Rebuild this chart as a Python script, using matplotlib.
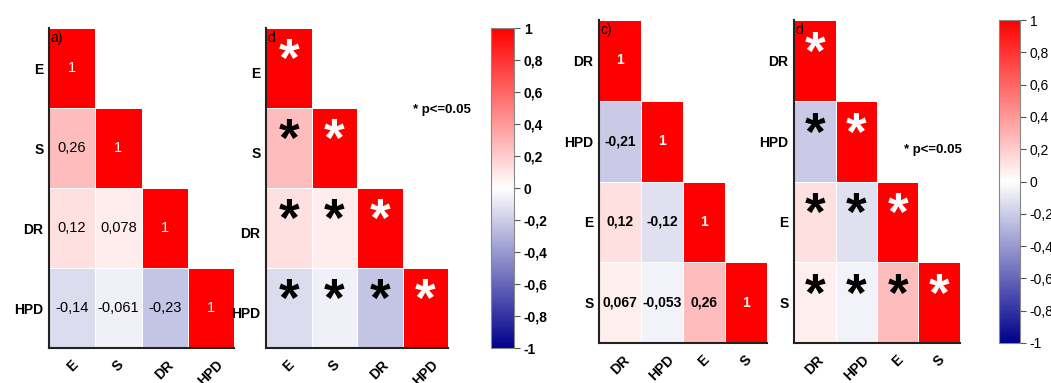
import numpy as np
import matplotlib
matplotlib.use("Agg")
import matplotlib.pyplot as plt
from matplotlib.colors import LinearSegmentedColormap

plt.rcParams['font.family'] = ['Liberation Sans', 'DejaVu Sans']

# data
vars_ac = ['E', 'S', 'DR', 'HPD']
corr_a = [[1, np.nan, np.nan, np.nan],
          [0.26, 1, np.nan, np.nan],
          [0.12, 0.078, 1, np.nan],
          [-0.14, -0.061, -0.23, 1]]
vars_cd = ['DR', 'HPD', 'E', 'S']
corr_c = [[1, np.nan, np.nan, np.nan],
          [-0.21, 1, np.nan, np.nan],
          [0.12, -0.12, 1, np.nan],
          [0.067, -0.053, 0.26, 1]]
cbar_ticks = [-1, -0.8, -0.6, -0.4, -0.2, 0, 0.2, 0.4, 0.6, 0.8, 1]

cmap = LinearSegmentedColormap.from_list('rb', ['#00008B', 'white', '#FF0000'])

W, H = 1051, 383
fig = plt.figure(figsize=(W / 100, H / 100), dpi=100)


def px_axes(x0, y0, x1, y1):
    return fig.add_axes([x0 / W, 1 - y1 / H, (x1 - x0) / W, (y1 - y0) / H])


def comma(v):
    return ('%g' % v).replace('.', ',')


def heat(rect, mat, labels, tag, mode, val_bold=False, ylab_off=0.0):
    ax = px_axes(*rect)
    m = np.ma.masked_invalid(np.array(mat, dtype=float))
    n = len(labels)
    ax.pcolormesh(np.arange(n + 1), np.arange(n + 1), m, cmap=cmap, vmin=-1, vmax=1,
                  edgecolor='white', linewidth=0.5)
    ax.set_xlim(0, n)
    ax.set_ylim(n, 0)
    ax.set_xticks(np.arange(n) + 0.5)
    ax.set_yticks(np.arange(n) + 0.5 + ylab_off)
    ax.set_xticklabels(labels, rotation=45, ha='center', fontsize=10, fontweight='bold')
    ax.set_yticklabels(labels, fontsize=10, fontweight='bold')
    ax.tick_params(length=0, pad=4)
    ax.tick_params(axis='x', pad=7)
    for s in ['top', 'right']:
        ax.spines[s].set_visible(False)
    for s in ['left', 'bottom']:
        ax.spines[s].set_linewidth(1.5)
        ax.spines[s].set_color('#222222')
    for i in range(n):
        for j in range(i + 1):
            v = mat[i][j]
            col = 'white' if i == j else 'black'
            if mode == 'val':
                ax.text(j + 0.5, i + 0.5, comma(v), ha='center', va='center', color=col,
                        fontsize=10.5 if not val_bold else 10,
                        fontweight='bold' if val_bold else 'normal')
            else:
                ax.text(j + 0.5, i + 0.43, '*', ha='center', va='center', color=col,
                        fontsize=38, fontweight='bold')
    ax.text(0.03, 0.04, tag, ha='left', va='top', fontsize=10)
    return ax


def cbar(rect, bold):
    cax = px_axes(*rect)
    sm = plt.cm.ScalarMappable(cmap=cmap, norm=plt.Normalize(-1, 1))
    cb = fig.colorbar(sm, cax=cax, ticks=cbar_ticks)
    cb.ax.set_yticklabels([comma(t) for t in cbar_ticks], fontsize=10,
                          fontweight='bold' if bold else 'normal')
    cb.outline.set_edgecolor('#888888')
    cb.ax.tick_params(length=4, color='#555555', pad=3)
    return cb


heat((49, 28, 234, 348), corr_a, vars_ac, 'a)', 'val')
heat((266, 28, 448, 348), corr_a, vars_ac, 'd', 'star', ylab_off=0.06)
cbar((491, 28, 514, 348), True)
fig.text(413 / W, 1 - 110 / H, '* p<=0.05', fontsize=9.5, fontweight='bold', va='center')

heat((599, 20, 767, 343), corr_c, vars_cd, 'c)', 'val', val_bold=True)
heat((794, 20, 960, 343), corr_c, vars_cd, 'd', 'star')
cbar((999, 20, 1020, 343), False)
fig.text(904 / W, 1 - 150 / H, '* p<=0.05', fontsize=9.5, fontweight='bold', va='center')

fig.savefig('out.png', dpi=100)
